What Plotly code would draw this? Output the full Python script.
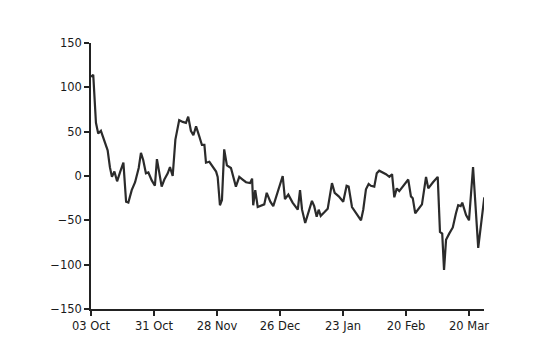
import pandas as pd
import plotly.graph_objects as go

start_date = "2022-10-03"
day_offsets = [
    0, 1.0, 2.2, 3.2, 4.4, 5.9, 7.4, 8.4, 9.3, 10.4, 11.6, 13.0, 14.4, 15.6, 16.6, 18.1, 19.6,
    21.2, 22.2, 23.2, 24.4, 25.5, 27.0, 28.4, 29.3, 30.4, 31.4, 32.6, 34.1, 35.1, 36.3, 37.5,
    39.2, 40.8, 42.2, 43.2, 44.4, 45.5, 46.7, 48.1, 49.3, 50.4, 51.1, 52.6, 54.1, 55.6, 56.3,
    57.3, 58.2, 59.2, 60.4, 62.2, 64.4, 65.9, 67.4, 68.9, 70.7, 71.6, 72.1, 73.0, 74.1, 75.6,
    77.0, 78.1, 79.7, 81.0, 82.2, 83.4, 85.2, 86.2, 87.7, 89.6, 91.9, 92.9, 93.8, 95.2, 96.8,
    98.2, 99.2, 100.3, 101.2, 102.1, 103.7, 105.2, 107.1, 108.3, 110.1, 112.1, 113.6, 114.5,
    116.0, 117.8, 120.0, 121.0, 122.2, 123.4, 124.4, 125.9, 127.0, 128.1, 129.6, 131.1, 132.6,
    133.8, 134.8, 135.9, 137.0, 138.8, 141.0, 142.2, 143.0, 144.1, 145.9, 147.1, 148.9, 149.9,
    152.0, 154.1, 155.1, 156.1, 156.9, 157.8, 159.2, 160.8, 162.2, 163.2, 164.3, 165.0, 166.7,
    168.0, 169.8, 172.1, 174.8,
]
values = [
    112, 114, 60, 48, 51, 41, 29, 10, -1, 5, -6, 5, 15, -29, -30, -16, -7,
    9, 26, 18, 3, 4, -5, -11, 19, 3, -12, -4, 3, 10, 0, 41,
    63, 61, 60, 67, 51, 46, 56, 45, 35, 35, 15, 16, 10, 5, -1,
    -33, -27, 30, 12, 9, -12, -1, -4, -7, -8, -3, -33, -16, -35, -33,
    -32, -19, -29, -34, -25, -15, 0, -26, -21, -30, -38, -16, -38, -53, -40,
    -28, -34, -46, -38, -45, -41, -37, -8, -19, -23, -29, -11, -12,
    -35, -42, -50, -38, -15, -9, -11, -12, 3, 6, 4, 2, -1,
    2, -24, -14, -17, -11, -4, -23, -25, -42, -36, -32, -1, -14,
    -7, -1, -63, -65, -106, -72, -65, -58, -42, -33, -34, -30, -44,
    -50, 10, -81, -24,
]
tick_dates = ["2022-10-03", "2022-10-31", "2022-11-28", "2022-12-26", "2023-01-23", "2023-02-20", "2023-03-20"]
tick_labels = ["03 Oct", "31 Oct", "28 Nov", "26 Dec", "23 Jan", "20 Feb", "20 Mar"]
y_ticks = [-150, -100, -50, 0, 50, 100, 150]

dates = pd.Timestamp(start_date) + pd.to_timedelta(day_offsets, unit="D")

fig = go.Figure()
fig.add_trace(go.Scatter(x=dates, y=values, mode="lines",
                         line=dict(color="#2b2b2b", width=2.2), showlegend=False))

font = dict(family="DejaVu Sans", size=11.5, color="#1a1a1a")
fig.update_layout(
    width=540, height=353,
    margin=dict(l=91, r=56, t=43, b=44),
    paper_bgcolor="white", plot_bgcolor="white",
    font=font,
)
fig.update_xaxes(
    type="date",
    range=[pd.Timestamp(start_date), pd.Timestamp("2023-03-26 16:00")],
    tickvals=tick_dates, ticktext=tick_labels,
    showline=True, linecolor="#222222", linewidth=1.5,
    ticks="outside", ticklen=5, tickcolor="#222222", tickwidth=1.5,
    showgrid=False, zeroline=False,
)
fig.update_yaxes(
    range=[-150, 150], tickvals=y_ticks,
    showline=True, linecolor="#222222", linewidth=1.5,
    ticks="outside", ticklen=5, tickcolor="#222222", tickwidth=1.5,
    showgrid=False, zeroline=False,
)
fig.write_html("out.html")
